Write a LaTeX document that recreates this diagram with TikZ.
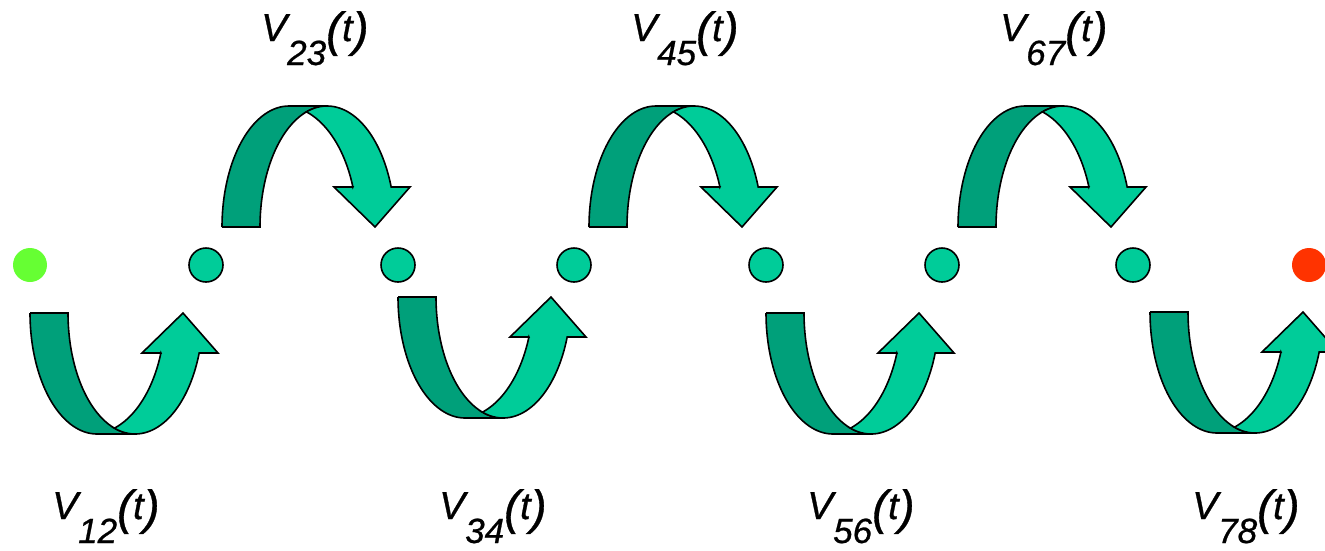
\documentclass[tikz,border=0pt]{standalone}
\usepackage{fontspec}
\setmainfont{Liberation Sans}
\newfontfamily\lblfont[ItalicFeatures={FakeBold=0.7}]{Liberation Sans}
\definecolor{darkband}{HTML}{00A07A}
\definecolor{lightband}{HTML}{00CC99}
\definecolor{startdot}{HTML}{66FF33}
\definecolor{enddot}{HTML}{FF3300}
\newcommand{\vlab}[1]{V\raisebox{-24pt}{\fontsize{35}{35}\selectfont #1}%
  \raisebox{-5pt}{\fontsize{48}{48}\selectfont(}{\fontsize{38}{38}\selectfont t}%
  \raisebox{-5pt}{\fontsize{48}{48}\selectfont)}}
\tikzset{
  bandline/.style={draw=black, line width=1.6pt},
  hop/.pic={
    \filldraw[bandline, fill=darkband] (0,0) -- (38,0)
      -- plot[domain=180:90, samples=40] ({105+67*cos(\x)},{121*sin(\x)})
      -- (67,121)
      -- plot[domain=90:180, samples=40] ({67+67*cos(\x)},{121*sin(\x)})
      -- cycle;
    \filldraw[bandline, fill=lightband]
      plot[domain=107.9:90, samples=10] ({105+67*cos(\x)},{121*sin(\x)})
      -- plot[domain=90:19.3, samples=40] ({105+68*cos(\x)},{121*sin(\x)})
      -- (188,40) -- (153,0) -- (112,40) -- (130.9,40)
      -- plot[domain=19.3:72.1, samples=40] ({62+73*cos(\x)},{121*sin(\x)})
      -- cycle;
  },
  dot/.style={circle, minimum size=34pt, inner sep=0pt, fill=lightband, draw=black, line width=1.6pt},
  lbl/.style={anchor=base west, inner sep=0pt, font=\lblfont\fontsize{39}{39}\selectfont\itshape}
}
\begin{document}
\begin{tikzpicture}[x=1pt, y=-1pt]
\useasboundingbox (0,0) rectangle (1325,550);
% bottom arrows
\pic at (30,313) {hop};
\pic at (398,297) {hop};
\pic at (766,313) {hop};
\pic at (1150,312) {hop};
% top arrows
\pic[yscale=-1] at (222,227) {hop};
\pic[yscale=-1] at (589,227) {hop};
\pic[yscale=-1] at (958,227) {hop};
% dots
\node[dot, fill=startdot, draw=none] (d1) at (30,265) {};
\node[dot] (d2) at (206,265) {};
\node[dot] (d3) at (398,265) {};
\node[dot] (d4) at (574,265) {};
\node[dot] (d5) at (766,265) {};
\node[dot] (d6) at (942,265) {};
\node[dot] (d7) at (1133,265) {};
\node[dot, fill=enddot, draw=none] (d8) at (1309,265) {};
% labels
\node[lbl] (l12) at (52,519) {\vlab{12}};
\node[lbl] (l23) at (261,41) {\vlab{23}};
\node[lbl] (l34) at (439,519) {\vlab{34}};
\node[lbl] (l45) at (631,41) {\vlab{45}};
\node[lbl] (l56) at (807,519) {\vlab{56}};
\node[lbl] (l67) at (1000,41) {\vlab{67}};
\node[lbl] (l78) at (1192,519) {\vlab{78}};
\end{tikzpicture}
\end{document}
